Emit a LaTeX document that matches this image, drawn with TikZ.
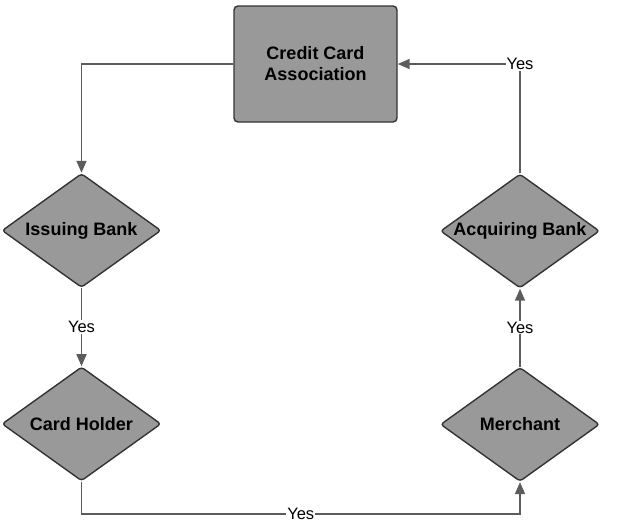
\documentclass[tikz,border=0pt]{standalone}
\usepackage{fontspec}
\setmainfont{Liberation Sans}
\usepackage{tikz}
\usetikzlibrary{arrows.meta,positioning,shapes.geometric}
\definecolor{boxgray}{HTML}{999999}
\definecolor{edgedark}{HTML}{333333}
\definecolor{linegray}{HTML}{5C5C5C}

\begin{document}
\begin{tikzpicture}[
  x=1pt,y=1pt,
  font=\fontsize{17}{21}\selectfont,
  party/.style={draw=edgedark,fill=boxgray,line width=1.4pt,rounded corners=4pt,
                minimum width=163pt,minimum height=116pt,align=center,
                font=\fontsize{18}{21}\selectfont\bfseries},
  bank/.style={diamond,shape aspect=1.41,draw=edgedark,fill=boxgray,line width=1.4pt,
               rounded corners=3pt,inner sep=0pt,minimum width=159pt,minimum height=114pt,
               font=\fontsize{18}{21}\selectfont\bfseries},
  yes/.style={fill=white,inner sep=1pt,font=\fontsize{16.5}{18}\selectfont},
  arr/.style={-{Triangle[length=12pt,width=10pt]},draw=linegray,line width=1.6pt}
]
\useasboundingbox (0,0) rectangle (619,-523);

% ---- top: the association
\node[party] (cca) at (315.5,-64) {Credit Card\\Association};

% ---- left column
\node[bank] (ib) at (81.5,-230.5) {Issuing Bank};
\node[bank,below=78pt of ib] (ch) {Card Holder};

% ---- right column
\node[bank] (ab) at (520,-231) {Acquiring Bank};
\node[bank,below=78pt of ab] (mer) {Merchant};

% ---- bends of the bottom line
\coordinate (lowl) at (81.5,-514);
\coordinate (lowr) at (520,-514);

% ---- connectors
\draw[arr] (cca.west) -| (ib.north);
\draw[arr] (ib.south) -- node[yes]{Yes} (ch.north);
\draw[arr] (ch.south) -- (lowl) -- node[yes,inner ysep=0pt]{Yes} (lowr) -- (mer.south);
\draw[arr] (mer.north) -- node[yes]{Yes} (ab.south);
\draw[arr] (ab.north) |- node[yes,pos=0.5]{Yes} (cca.east);
\end{tikzpicture}
\end{document}
